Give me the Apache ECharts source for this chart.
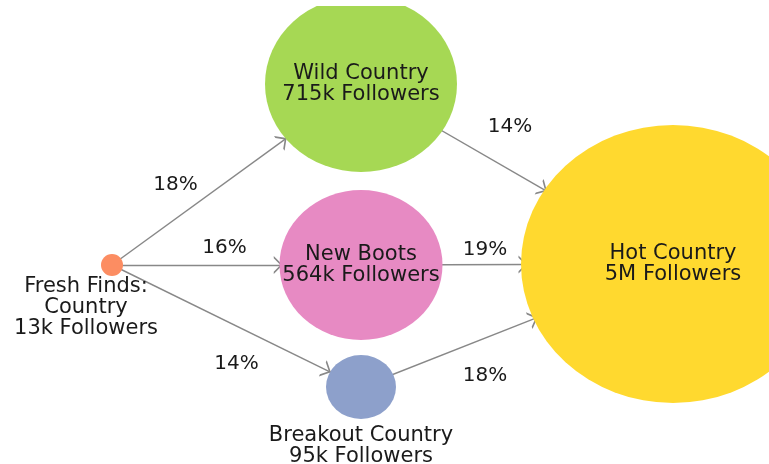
<!DOCTYPE html>
<html>
<head>
<meta charset="utf-8">
<script src="https://cdn.jsdelivr.net/npm/echarts@6/dist/echarts.min.js"></script>
<style>
  html, body { margin: 0; padding: 0; background: #fff; }
  #chart { width: 769px; height: 464px; }
</style>
</head>
<body>
<div id="chart"></div>
<script>
// playlists and their follower counts
var playlists = ['Fresh Finds: Country', 'Wild Country', 'New Boots', 'Breakout Country', 'Hot Country'];
var followers = ['13k', '715k', '564k', '95k', '5M'];

// flows between playlists
var edgeFrom = ['Fresh Finds: Country', 'Fresh Finds: Country', 'Fresh Finds: Country', 'Wild Country', 'New Boots', 'Breakout Country'];
var edgeTo = ['Wild Country', 'New Boots', 'Breakout Country', 'Hot Country', 'Hot Country', 'Hot Country'];
var edgePct = [18, 16, 14, 14, 19, 18];

// layout (chart units = pixels of a 769x464 canvas)
var nodeX = [112, 361, 361, 361, 673];
var nodeY = [265, 84, 265, 387, 264];
var nodeSize = [[22, 22], [192, 176], [163, 150], [70, 64], [304, 278]];
var nodeColor = ['#fc8d62', '#a6d854', '#e78ac3', '#8da0cb', '#ffd92f'];
var pctOffset = [[-61, 10], [-12, -17], [0, 38], [-7, -47], [-32, -15], [-32, 50]];

var txt = '#1a1a1a';
var fontFam = '"DejaVu Sans", Verdana, sans-serif';

// open chevron, tip at the middle of its box so it lands on the node rim
var chevron = 'path://M0,10 L5,0 L10,10 L8.7,10 L5,2.6 L1.3,10 Z M5,-10 L5.01,-10 L5,-9.99 Z';

var nodes = playlists.map(function (p, i) {
  var lbl = {
    show: true,
    position: 'inside',
    formatter: (p === 'Fresh Finds: Country' ? 'Fresh Finds:\nCountry' : p) + '\n' + followers[i] + ' Followers'
  };
  if (i === 0) { lbl.position = 'bottom'; lbl.distance = 0; lbl.offset = [-26, 0]; }
  if (i === 3) { lbl.position = 'bottom'; lbl.distance = 6; }
  return {
    name: p,
    value: [nodeX[i], nodeY[i]],
    symbolSize: nodeSize[i],
    itemStyle: { color: nodeColor[i] },
    label: lbl
  };
});

var links = edgeFrom.map(function (s, i) {
  return { source: s, target: edgeTo[i] };
});

// percentage labels sit near the middle of each edge
var pctPoints = edgeFrom.map(function (s, i) {
  var a = playlists.indexOf(s), b = playlists.indexOf(edgeTo[i]);
  return {
    value: [(nodeX[a] + nodeX[b]) / 2, (nodeY[a] + nodeY[b]) / 2],
    label: { offset: pctOffset[i] },
    pct: edgePct[i]
  };
});

var chart = echarts.init(document.getElementById('chart'));
chart.setOption({
  animation: false,
  backgroundColor: '#fff',
  grid: { left: 0, right: 0, top: 0, bottom: 0 },
  xAxis: { type: 'value', min: 0, max: 769, show: false },
  yAxis: { type: 'value', min: 0, max: 464, inverse: true, show: false },
  graphic: [{
    type: 'rect', left: 0, top: 0, z: 100,
    shape: { width: 769, height: 6 },
    style: { fill: '#fff' }
  }],
  series: [
    {
      type: 'graph',
      coordinateSystem: 'cartesian2d',
      layout: 'none',
      symbol: 'circle',
      data: nodes,
      links: links,
      edgeSymbol: ['none', chevron],
      edgeSymbolSize: [12, 18],
      lineStyle: { color: '#888', width: 1.4, opacity: 1, curveness: 0 },
      label: { color: txt, fontSize: 21, lineHeight: 21, fontFamily: fontFam },
      emphasis: { disabled: true }
    },
    {
      type: 'scatter',
      symbolSize: 0,
      data: pctPoints,
      itemStyle: { opacity: 1 },
      label: {
        show: true,
        position: 'inside',
        color: txt,
        opacity: 1,
        fontSize: 20,
        fontFamily: fontFam,
        formatter: function (p) { return p.data.pct + '%'; }
      },
      emphasis: { disabled: true },
      z: 5
    }
  ]
});
</script>
</body>
</html>
